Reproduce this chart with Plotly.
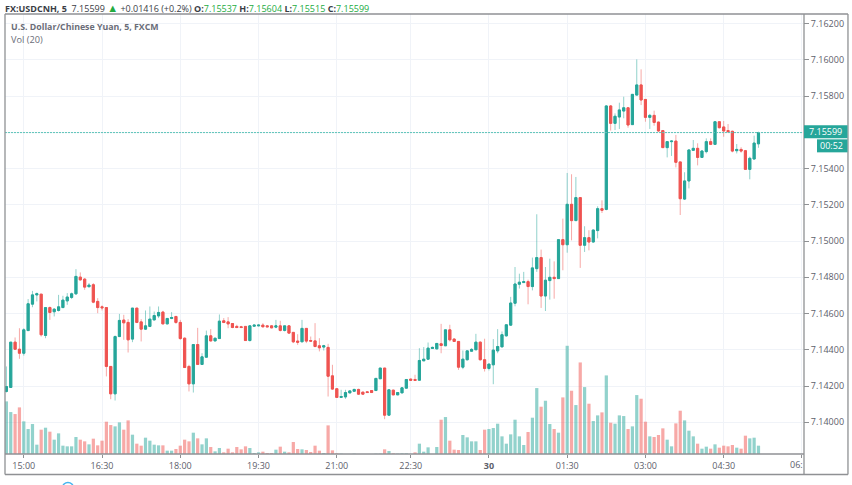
import plotly.graph_objects as go

# Bars are evenly spaced; the x value is the bar number counted from the 15:00 bar.
first_bar = -4
opens = [
7.14170,7.14192,7.14442,7.14403,7.14381,7.14506,7.14652,7.14703,7.14707,7.14479,
7.14633,7.14610,7.14617,7.14633,7.14670,7.14689,7.14709,7.14801,7.14790,7.14748,
7.14759,7.14667,7.14637,7.14633,7.14308,7.14157,7.14473,7.14564,7.14551,7.14459,
7.14630,7.14554,7.14514,7.14529,7.14565,7.14587,7.14608,7.14543,7.14573,7.14584,
7.14551,7.14464,7.14308,7.14212,7.14429,7.14319,7.14359,7.14477,7.14449,7.14462,
7.14560,7.14554,7.14545,7.14529,7.14527,7.14529,7.14451,7.14530,7.14532,7.14536,
7.14532,7.14532,7.14525,7.14532,7.14507,7.14532,7.14496,7.14448,7.14444,7.14518,
7.14451,7.14449,7.14422,7.14415,7.14413,7.14256,7.14185,7.14137,7.14140,7.14162,
7.14171,7.14181,7.14166,7.14168,7.14175,7.14175,7.14240,7.14299,7.14039,7.14177,
7.14151,7.14162,7.14188,7.14238,7.14236,7.14232,7.14339,7.14348,7.14407,7.14405,
7.14433,7.14422,7.14510,7.14459,7.14446,7.14304,7.14345,7.14392,7.14400,7.14442,
7.14345,7.14297,7.14317,7.14394,7.14416,7.14477,7.14536,7.14657,7.14762,7.14771,
7.14776,7.14749,7.14848,7.14909,7.14697,7.14782,7.14800,7.14793,7.15008,7.14980,
7.15203,7.15113,7.15240,7.14977,7.15019,7.14995,7.15058,7.15179,7.15175,7.15746,
7.15650,7.15685,7.15718,7.15736,7.15643,7.15806,7.15862,7.15782,7.15683,7.15694,
7.15657,7.15610,7.15516,7.15549,7.15552,7.15437,7.15232,7.15332,7.15501,7.15512,
7.15462,7.15494,7.15549,7.15534,7.15659,7.15630,7.15610,7.15606,7.15499,7.15506,
7.15499,7.15396,7.15453,7.15537]
highs = [
7.14308,7.14442,7.14468,7.14519,7.14519,7.14680,7.14725,7.14716,7.14707,7.14633,
7.14639,7.14630,7.14703,7.14698,7.14713,7.14716,7.14845,7.14827,7.14795,7.14768,
7.14768,7.14685,7.14645,7.14633,7.14308,7.14479,7.14598,7.14593,7.14569,7.14630,
7.14630,7.14569,7.14617,7.14639,7.14611,7.14639,7.14615,7.14573,7.14608,7.14584,
7.14565,7.14468,7.14317,7.14429,7.14521,7.14381,7.14506,7.14514,7.14464,7.14595,
7.14575,7.14580,7.14547,7.14538,7.14532,7.14529,7.14536,7.14538,7.14538,7.14547,
7.14536,7.14536,7.14565,7.14560,7.14532,7.14536,7.14496,7.14486,7.14565,7.14518,
7.14473,7.14547,7.14464,7.14427,7.14433,7.14317,7.14185,7.14179,7.14179,7.14175,
7.14185,7.14185,7.14168,7.14170,7.14177,7.14242,7.14299,7.14299,7.14179,7.14179,
7.14166,7.14192,7.14236,7.14240,7.14262,7.14409,7.14415,7.14440,7.14418,7.14437,
7.14543,7.14510,7.14538,7.14464,7.14446,7.14396,7.14394,7.14409,7.14488,7.14446,
7.14461,7.14321,7.14459,7.14514,7.14501,7.14538,7.14692,7.14857,7.14820,7.14830,
7.14787,7.14909,7.15148,7.14953,7.14857,7.14903,7.14888,7.15008,7.15124,7.15376,
7.15369,7.15354,7.15240,7.15082,7.15060,7.15063,7.15192,7.15225,7.15750,7.15751,
7.15705,7.15764,7.15797,7.15736,7.15810,7.16003,7.15948,7.15782,7.15702,7.15720,
7.15659,7.15613,7.15552,7.15554,7.15586,7.15437,7.15380,7.15506,7.15558,7.15540,
7.15503,7.15567,7.15567,7.15659,7.15659,7.15663,7.15646,7.15610,7.15536,7.15518,
7.15503,7.15466,7.15582,7.15604]
lows = [
7.14164,7.14192,7.14403,7.14350,7.14368,7.14506,7.14635,7.14667,7.14473,7.14464,
7.14565,7.14584,7.14611,7.14630,7.14648,7.14680,7.14703,7.14782,7.14731,7.14746,
7.14657,7.14602,7.14617,7.14253,7.14127,7.14120,7.14470,7.14455,7.14385,7.14442,
7.14547,7.14446,7.14510,7.14525,7.14562,7.14575,7.14541,7.14541,7.14569,7.14543,
7.14455,7.14300,7.14170,7.14164,7.14319,7.14317,7.14357,7.14446,7.14447,7.14462,
7.14547,7.14519,7.14519,7.14519,7.14519,7.14449,7.14446,7.14529,7.14530,7.14523,
7.14525,7.14519,7.14519,7.14501,7.14501,7.14490,7.14437,7.14427,7.14444,7.14437,
7.14446,7.14414,7.14391,7.14396,7.14142,7.14179,7.14137,7.14137,7.14129,7.14160,
7.14170,7.14151,7.14153,7.14162,7.14162,7.14175,7.14240,7.14017,7.14037,7.14151,
7.14151,7.14162,7.14188,7.14232,7.14231,7.14231,7.14339,7.14345,7.14405,7.14403,
7.14381,7.14422,7.14446,7.14444,7.14289,7.14293,7.14341,7.14391,7.14400,7.14341,
7.14280,7.14286,7.14210,7.14381,7.14415,7.14473,7.14532,7.14640,7.14738,7.14769,
7.14651,7.14728,7.14830,7.14631,7.14614,7.14677,7.14682,7.14793,7.14839,7.14936,
7.15004,7.15111,7.14852,7.14940,7.14949,7.14992,7.15015,7.15155,7.15170,7.15610,
7.15613,7.15619,7.15678,7.15626,7.15641,7.15806,7.15751,7.15659,7.15619,7.15637,
7.15604,7.15516,7.15462,7.15470,7.15407,7.15144,7.15227,7.15291,7.15499,7.15418,
7.15462,7.15484,7.15530,7.15534,7.15622,7.15576,7.15600,7.15490,7.15484,7.15488,
7.15396,7.15341,7.15451,7.15515]
closes = [
7.14197,7.14442,7.14403,7.14381,7.14510,7.14654,7.14703,7.14709,7.14483,7.14633,
7.14606,7.14624,7.14637,7.14674,7.14691,7.14709,7.14805,7.14786,7.14746,7.14757,
7.14663,7.14633,7.14632,7.14308,7.14157,7.14473,7.14562,7.14549,7.14455,7.14630,
7.14551,7.14514,7.14532,7.14569,7.14589,7.14606,7.14543,7.14573,7.14578,7.14551,
7.14462,7.14302,7.14212,7.14429,7.14319,7.14361,7.14477,7.14449,7.14464,7.14558,
7.14551,7.14543,7.14523,7.14523,7.14523,7.14451,7.14532,7.14536,7.14536,7.14527,
7.14527,7.14521,7.14532,7.14507,7.14532,7.14492,7.14444,7.14442,7.14518,7.14448,
7.14448,7.14418,7.14411,7.14422,7.14254,7.14183,7.14137,7.14142,7.14164,7.14173,
7.14181,7.14155,7.14155,7.14164,7.14164,7.14242,7.14299,7.14039,7.14179,7.14151,
7.14164,7.14190,7.14236,7.14232,7.14231,7.14341,7.14348,7.14409,7.14413,7.14435,
7.14424,7.14510,7.14455,7.14446,7.14304,7.14348,7.14394,7.14402,7.14442,7.14345,
7.14297,7.14321,7.14398,7.14418,7.14483,7.14538,7.14658,7.14763,7.14773,7.14776,
7.14749,7.14852,7.14909,7.14697,7.14784,7.14800,7.14793,7.15008,7.14980,7.15203,
7.15113,7.15240,7.14977,7.15019,7.14995,7.15061,7.15179,7.15170,7.15746,7.15650,
7.15689,7.15724,7.15736,7.15641,7.15810,7.15862,7.15779,7.15683,7.15694,7.15655,
7.15608,7.15516,7.15549,7.15552,7.15435,7.15234,7.15332,7.15503,7.15512,7.15462,
7.15497,7.15549,7.15534,7.15659,7.15626,7.15608,7.15604,7.15497,7.15506,7.15497,
7.15396,7.15457,7.15541,7.15599]
volumes = [
158,126,120,140,98,75,90,28,73,79,67,43,62,25,23,23,51,43,38,29,
46,26,40,97,87,83,95,73,101,58,31,25,49,40,28,26,26,10,10,15,
25,43,38,64,47,29,47,21,8,18,5,16,5,21,14,23,18,3,5,7,
3,3,13,22,7,5,36,15,14,12,6,25,10,3,86,11,2,1,0,0,
1,0,0,0,0,1,1,14,9,2,1,2,2,0,5,31,7,20,0,21,
103,111,40,13,12,57,50,38,38,12,73,75,78,91,53,31,59,103,53,27,
66,109,198,142,160,90,75,64,170,325,190,147,275,201,151,99,116,125,236,94,
91,116,114,75,83,177,166,97,53,51,57,77,43,23,92,130,101,70,53,31,
16,22,16,29,19,25,23,27,19,16,55,47,49,25]

tick_bars = [0, 18, 36, 54, 72, 89, 107, 125, 143, 161, 179]
tick_labels = ["15:00", "16:30", "18:00", "19:30", "21:00", "22:30", "<b>30</b>", "01:30", "03:00", "04:30", ""]
price_ticks = [7.14, 7.142, 7.144, 7.146, 7.148, 7.15, 7.152, 7.154, 7.156, 7.158, 7.16, 7.162]

UP, DOWN = "#26a69a", "#ef5350"
UP_SOFT, DOWN_SOFT = "rgba(38,166,154,0.5)", "rgba(239,83,80,0.5)"
GRID, FRAME, TEXT = "#f0f3f8", "#8f9194", "#5d606b"
FONT = "Open Sans"

W, H = 852, 485
L, R, T, B = 4.5, 803.0, 14.0, 454.5
xs = list(range(first_bar, first_bar + len(closes)))
body_hi = [max(o, c) for o, c in zip(opens, closes)]
body_lo = [min(o, c) for o, c in zip(opens, closes)]
last = closes[-1]

px = lambda v: (v - L) / (R - L)
py = lambda v: (B - v) / (B - T)

fig = go.Figure()
fig.add_trace(go.Bar(
    x=xs, y=volumes, yaxis="y2", width=0.74,
    marker=dict(color=[UP_SOFT if c >= o else DOWN_SOFT for o, c in zip(opens, closes)], line_width=0),
    hoverinfo="skip"))
fig.add_trace(go.Candlestick(
    x=xs, open=opens, high=highs, low=lows, close=closes, whiskerwidth=0,
    increasing=dict(line=dict(color=UP_SOFT, width=1), fillcolor="rgba(0,0,0,0)"),
    decreasing=dict(line=dict(color=DOWN_SOFT, width=1), fillcolor="rgba(0,0,0,0)"),
    hoverinfo="skip"))
fig.add_trace(go.Candlestick(
    x=xs, open=opens, high=body_hi, low=body_lo, close=closes, whiskerwidth=0,
    increasing=dict(line=dict(color=UP, width=1), fillcolor=UP),
    decreasing=dict(line=dict(color=DOWN, width=1), fillcolor=DOWN),
    hoverinfo="skip"))


def frame(x0, y0, x1, y1, color=FRAME, width=1.3):
    return dict(type="line", xref="paper", yref="paper", x0=px(x0), y0=py(y0), x1=px(x1), y1=py(y1),
                line=dict(color=color, width=width), layer="above")


def box(x0, y0, x1, y1, color):
    return dict(type="rect", xref="paper", yref="paper", x0=px(x0), y0=py(y0), x1=px(x1), y1=py(y1),
                fillcolor=color, line_width=0, layer="above")


shapes = [
    dict(type="line", xref="paper", yref="y", x0=0, x1=1, y0=last, y1=last,
         line=dict(color="#5cc4b8", width=1, dash="2px,1px"), layer="above"),
    frame(L, T, 848, T), frame(L, T, L, 475), frame(L, 475, 848, 475), frame(848, T, 848, 475),
    frame(R + 1, T, R + 1, 475), frame(L, B, R + 1, B),
    box(804, 125.5, 847.5, 138.5, UP), box(817, 139.5, 847.5, 152.5, UP),
    dict(type="circle", xref="paper", yref="paper", x0=px(62), x1=px(73), y0=py(483), y1=py(494),
         line=dict(color="#45b5f0", width=1.5), fillcolor="white", layer="above"),
]


def note(x, y, text, size=9, color=TEXT, xanchor="left"):
    return dict(xref="paper", yref="paper", x=px(x), y=py(y), text=text, showarrow=False,
                xanchor=xanchor, yanchor="middle", font=dict(family=FONT, size=size, color=color),
                borderpad=0, borderwidth=0)


G = "#22ab3f"
header = (f"<b>FX:USDCNH, 5</b>  7.15599 <span style='color:{G};font-size:11px'>▲</span> +0.01416 (+0.2%) "
          f"<b>O:</b><span style='color:{G}'>7.15537</span> <b>H:</b><span style='color:{G}'>7.15604</span> "
          f"<b>L:</b><span style='color:{G}'>7.15515</span> <b>C:</b><span style='color:{G}'>7.15599</span>")
annotations = [
    note(4.5, 7, header, size=9, color="#3a3d45"),
    note(11, 27, "<b>U.S. Dollar/Chinese Yuan, 5, FXCM</b>", size=8.8, color="#6a6d78"),
    note(11, 40, "Vol (20)", size=9.2, color="#6a6d78"),
    note(825.5, 132, f"{last:.5f}", size=9, color="white", xanchor="center"),
    note(832, 146, "00:52", size=9, color="white", xanchor="center"),
    note(803, 465.5, "06:", size=9, color=TEXT, xanchor="right"),
]

x_lo = (L - 23.3) / 4.35
x_hi = (R - 23.3) / 4.35
price_per_px = 0.002 / 36.27
y_hi = 7.16 + (60 - T) * price_per_px
y_lo = 7.16 - (B - 60) * price_per_px

# The tick beside the last price sits behind the price tag, so it carries no label of its own.
price_labels = ["" if abs(v - last) < 0.0005 else f"{v:.5f}" for v in price_ticks]

fig.update_layout(
    width=W, height=H, margin=dict(l=L, r=W - R, t=T, b=H - B, pad=0, autoexpand=False),
    paper_bgcolor="white", plot_bgcolor="white", showlegend=False, bargap=0.26,
    font=dict(family=FONT, size=9, color=TEXT),
    shapes=shapes, annotations=annotations,
    xaxis=dict(range=[x_lo, x_hi], tickmode="array", tickvals=tick_bars, ticktext=tick_labels,
               showgrid=True, gridcolor=GRID, gridwidth=1, zeroline=False, showline=False,
               ticks="outside", ticklen=3, tickcolor=FRAME, rangeslider=dict(visible=False),
               tickfont=dict(size=9, color=TEXT), fixedrange=True),
    yaxis=dict(range=[y_lo, y_hi], side="right", overlaying="y2", tickmode="array", tickvals=price_ticks,
               ticktext=price_labels, showgrid=True, gridcolor=GRID, gridwidth=1,
               zeroline=False, showline=False, ticks="outside", ticklen=5, tickcolor=FRAME,
               tickfont=dict(size=9, color=TEXT), fixedrange=True),
    yaxis2=dict(range=[0, (B - T) * 3], visible=False, fixedrange=True),
)

fig.write_html("out.html", config=dict(displayModeBar=False),
               post_script="document.body.style.margin='0';")
